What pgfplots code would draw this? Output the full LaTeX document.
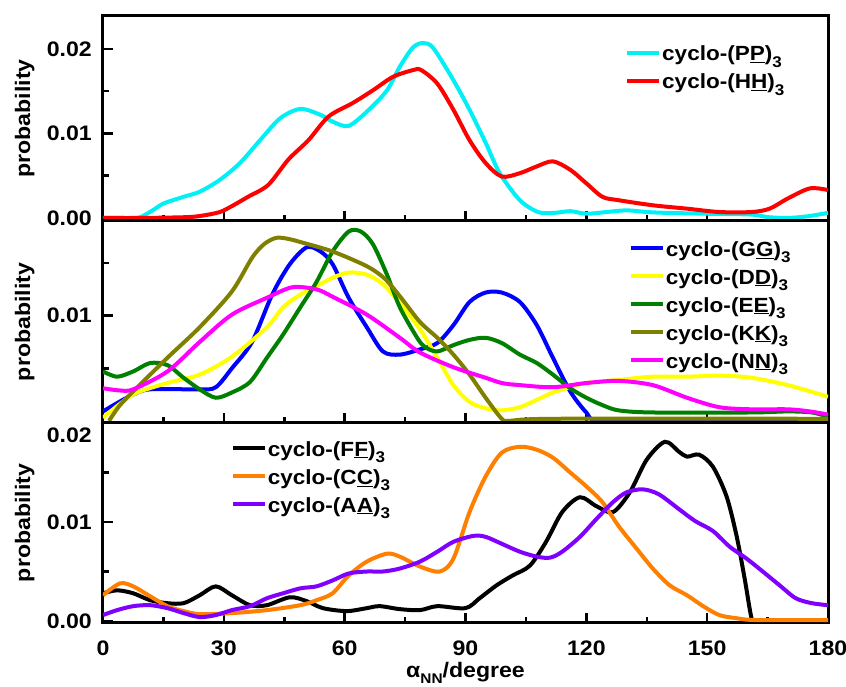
\documentclass[border=0pt]{standalone}
\usepackage{fontspec}
\setmainfont{Liberation Sans}[FakeStretch=1.1]
\usepackage{pgfplots}
\pgfplotsset{compat=1.18}

\definecolor{ccyan}{RGB}{0,240,245}
\definecolor{cred}{RGB}{255,0,0}
\definecolor{cblue}{RGB}{0,0,255}
\definecolor{cyellow}{RGB}{255,255,0}
\definecolor{cgreen}{RGB}{0,128,0}
\definecolor{colive}{RGB}{128,128,0}
\definecolor{cmagenta}{RGB}{255,0,255}
\definecolor{corange}{RGB}{255,128,0}
\definecolor{cpurple}{RGB}{128,0,255}

\newcommand{\sub}[1]{\raisebox{-0.3em}{\fontsize{15.5}{15.5}\selectfont #1}}
\newcommand{\cyc}[2]{cyclo-(#1\underline{#2})\sub{3}}

\pgfplotsset{
  panel/.style={
    scale only axis, width=725pt,
    xmin=0, xmax=180,
    xtick={0,30,...,180}, minor xtick={15,45,...,165},
    tick align=inside, xtick pos=bottom, ytick pos=left,
    major tick length=10pt, minor tick length=6pt,
    every tick/.style={black, line width=2.5pt},
    axis line style={line width=3pt},
    scaled y ticks=false,
    font=\fontsize{21}{25}\selectfont\bfseries,
    tick label style={font=\fontsize{21}{25}\selectfont\bfseries},
    yticklabel style={/pgf/number format/fixed, /pgf/number format/fixed zerofill,
      /pgf/number format/precision=2, inner sep=0pt, xshift=-11pt},
    xticklabel style={inner sep=0pt, yshift=-18pt},
    /pgf/number format/assume math mode=true,
    ylabel={probability},
    every axis y label/.style={at={(axis description cs:-0.108,0.5)}, rotate=90, anchor=center},
    legend cell align=left,
    legend image code/.code={\draw[##1, line width=4pt] (0pt,3.5pt) -- (32pt,3.5pt);},
    legend style={draw=none, fill=none, inner sep=0pt, anchor=north west,
      row sep=5pt, font=\fontsize{20.5}{24}\selectfont\bfseries,
      nodes={inner sep=1pt, text height=15pt, text depth=6pt},
      /tikz/every even column/.append style={column sep=5pt}},
  },
  curve/.style={smooth, tension=0.5, line width=4pt},
}

\begin{document}
\begin{tikzpicture}
\useasboundingbox (0pt,0pt) rectangle (846pt,687pt);

% ---------- top panel: P and H ----------
\begin{axis}[panel, at={(103pt,466pt)}, anchor=south west, height=205pt,
  ymin=-0.00036, ymax=0.0239,
  ytick={0,0.01,0.02}, minor ytick={0.005,0.015},
  xticklabels={},
  legend style={at={(axis description cs:0.72,0.86)}}]
\addplot[curve, ccyan] coordinates {
(0,0.0) (5,0.0) (8.7,0.0) (12,0.0008) (15,0.0017) (20,0.0025) (24,0.0031)
(29,0.0045) (34,0.0065) (39,0.0092) (44,0.0118) (49,0.0129) (54,0.0122)
(57,0.0114) (61,0.0109) (66,0.0128) (70.5,0.0151) (73.7,0.0179) (77,0.0202)
(79.5,0.0207) (82,0.0201) (87,0.0163) (91,0.0128) (95,0.0089) (98.5,0.0053)
(103.5,0.0021) (108,0.0007) (112,0.0006) (116,0.0008) (120,0.0005) (125,0.0007)
(130,0.0009) (135,0.0007) (140,0.0006) (150,0.0005) (161,0.0004) (165,0.0001)
(170,0.0) (175,0.0002) (180,0.0006)};
\addlegendentry{\cyc{P}{P}}
\addplot[curve, cred] coordinates {
(0,0.0) (10,0.0) (21,0.0001) (25,0.0003) (29,0.0007) (32,0.0014) (36,0.0025)
(41,0.0039) (46,0.0069) (51,0.0092) (56,0.012) (62,0.0136) (67,0.0151)
(72,0.0167) (77,0.0175) (79,0.0175) (83,0.0159) (87,0.0128) (91,0.0092)
(95,0.0065) (99,0.0049) (103.5,0.0053) (107.7,0.0061) (111.7,0.0067) (116,0.0057)
(120,0.0041) (124,0.0025) (128,0.0021) (136.5,0.0015) (145,0.0011) (153,0.0007)
(161,0.0007) (165.5,0.0011) (170,0.0023) (175.5,0.0035) (180,0.0033)};
\addlegendentry{\cyc{H}{H}}
\end{axis}

% ---------- middle panel: G, D, E, K, N ----------
\begin{axis}[panel, at={(103pt,264pt)}, anchor=south west, height=202pt,
  ymin=-0.0002, ymax=0.019,
  ytick={0.01}, minor ytick={0.005,0.015},
  xticklabels={},
  legend style={at={(axis description cs:0.725,0.906)}}]
\addplot[curve, cblue] coordinates {
(0,0.0009) (4,0.0018) (7.5,0.0025) (11.7,0.003) (24,0.003) (28,0.0032) (32,0.005)
(37,0.0075) (42,0.012) (46.4,0.0149) (50.6,0.0165) (54,0.0161) (57,0.0149)
(61,0.0117) (65.5,0.0089) (69.5,0.0066) (73.7,0.0063) (78.7,0.0068) (83,0.0074)
(87,0.0091) (91,0.0113) (95,0.0122) (99,0.0122) (103.5,0.0113) (107.7,0.0091)
(111.7,0.006) (116,0.0028) (120,0.0008) (123,0.0) (140,0.0) (180,0.0)};
\addlegendentry{\cyc{G}{G}}
\addplot[curve, cyellow] coordinates {
(0,0.0003) (7.5,0.0025) (16,0.0036) (24,0.0044) (32,0.0061) (40.7,0.0089)
(44.7,0.0108) (49,0.012) (53,0.0128) (57,0.0136) (61,0.0141) (65.5,0.0139)
(69.5,0.013) (73.7,0.0112) (78.7,0.0087) (83,0.006) (87,0.0034) (91,0.0018)
(95,0.0012) (99,0.001) (103.5,0.0013) (107.7,0.002) (111.7,0.0027) (116,0.0032)
(120,0.0036) (128,0.0039) (136.5,0.0042) (145,0.0042) (153,0.0043) (161,0.0041)
(170,0.0034) (180,0.0023)};
\addlegendentry{\cyc{D}{D}}
\addplot[curve, cgreen] coordinates {
(0,0.0047) (3.5,0.0042) (7.5,0.0047) (11.7,0.0055) (16,0.0053) (20,0.0041)
(24,0.003) (28,0.0022) (32,0.0027) (36.5,0.0037) (40.7,0.006) (44.7,0.0082)
(49,0.0108) (53,0.0132) (57,0.0161) (61,0.018) (64,0.018) (67,0.0168)
(70.5,0.0139) (73.7,0.0108) (78,0.0079) (80,0.007) (83,0.0066) (87,0.0072)
(91,0.0077) (95,0.0079) (99,0.0074) (103.5,0.0063) (107.7,0.0055) (111.7,0.0044)
(116,0.0031) (120,0.0022) (124,0.0015) (128,0.001) (136.5,0.0008) (161,0.0008)
(170,0.0009) (176,0.0008) (180,0.0004)};
\addlegendentry{\cyc{E}{E}}
\addplot[curve, colive] coordinates {
(1.5,0.0) (4,0.0014) (7.5,0.0028) (16,0.006) (24,0.0089) (32,0.0123) (37,0.0155)
(40,0.0168) (43,0.0174) (46,0.0173) (49,0.017) (57,0.0161) (65.5,0.0147)
(70,0.0135) (74,0.0117) (78.7,0.0094) (83,0.0079) (87,0.0063) (91,0.0044)
(95,0.0022) (99,0.0002) (101,0.0) (112,0.0002) (180,0.0002)};
\addlegendentry{\cyc{K}{K}}
\addplot[curve, cmagenta] coordinates {
(0,0.0031) (4,0.0029) (7.5,0.003) (16,0.0047) (24,0.0075) (32,0.0101)
(40.7,0.0117) (47,0.0127) (53,0.0125) (57,0.0118) (65.5,0.0101) (73.7,0.0079)
(78.7,0.0065) (87,0.0051) (95,0.0041) (99,0.0036) (103.5,0.0034) (111.7,0.0032)
(120,0.0036) (128,0.0038) (136.5,0.0034) (145,0.0022) (153,0.0013) (161,0.0011)
(170,0.0011) (175.5,0.0009) (180,0.0006)};
\addlegendentry{\cyc{N}{N}}
\end{axis}

% ---------- bottom panel: F, C, A ----------
\begin{axis}[panel, at={(103pt,64pt)}, anchor=south west, height=200pt,
  ymin=-0.0002, ymax=0.02,
  ytick={0,0.01}, minor ytick={0.005,0.015},
  extra y ticks={0.02},
  extra y tick style={yticklabel style={yshift=-12pt}},
  xlabel={α\raisebox{-0.25em}{\fontsize{14}{14}\selectfont NN}/degree},
  every axis x label/.style={at={(axis description cs:0.5,-0.275)}, anchor=base},
  legend style={at={(axis description cs:0.176,0.915)}}]
\addplot[curve, black] coordinates {
(0,0.0028) (3.5,0.0031) (7.5,0.0028) (11.7,0.0021) (16,0.0018) (20,0.0018)
(24,0.0026) (28,0.0035) (32,0.0026) (36.5,0.0016) (40.7,0.0016) (46.4,0.0024)
(50.6,0.002) (54.6,0.0013) (60.5,0.001) (65.5,0.0013) (68.7,0.0015) (73.7,0.0012)
(78.7,0.0011) (83,0.0015) (90,0.0013) (93.5,0.0023) (97.7,0.0036) (101.7,0.0046)
(106,0.0056) (110,0.008) (114,0.011) (118.4,0.0125) (122.5,0.0116) (126.6,0.011)
(130.8,0.013) (135,0.0163) (139.5,0.0181) (143,0.0171) (145,0.0166) (148,0.0168)
(151.4,0.0156) (154.8,0.0126) (157.3,0.0086) (159.3,0.0043) (161,0.0003)
(162,0.0) (170,0.0) (180,0.0)};
\addlegendentry{\cyc{F}{F}}
\addplot[curve, corange] coordinates {
(0,0.0026) (4.2,0.0038) (7.5,0.0035) (11.7,0.0025) (16,0.0015) (20,0.001)
(24,0.0007) (32,0.0008) (40.7,0.0011) (49,0.0016) (53,0.0021) (57,0.0028)
(61,0.0046) (65.5,0.006) (70.5,0.0068) (73.7,0.0065) (78.7,0.0055) (83.6,0.005)
(87,0.0063) (91,0.011) (95,0.0146) (99,0.017) (103.5,0.0176) (107.7,0.0173)
(111.7,0.0165) (116,0.015) (120,0.0136) (124,0.012) (128,0.0096) (132.5,0.0073)
(136.5,0.0053) (140.7,0.0036) (145,0.0026) (149,0.0015) (153,0.0006) (157,0.0003)
(162,0.0001) (180,0.0001)};
\addlegendentry{\cyc{C}{C}}
\addplot[curve, cpurple] coordinates {
(0,0.0006) (3.5,0.0011) (7.5,0.0015) (11.7,0.0016) (16,0.0013) (20,0.0008)
(24,0.0004) (28,0.0006) (32,0.0011) (36.5,0.0015) (40.7,0.0023) (44.7,0.0028)
(49,0.0033) (53,0.0035) (57,0.0041) (61,0.0048) (65.5,0.005) (69.5,0.005)
(73.7,0.0053) (78.7,0.006) (83,0.007) (87,0.008) (92,0.0086) (95,0.0085)
(99,0.0078) (103.5,0.007) (107.7,0.0065) (111,0.0064) (114,0.007) (118.4,0.0085)
(122.5,0.0103) (126.6,0.012) (130,0.013) (134,0.0133) (138,0.0128) (143,0.0113)
(147,0.0101) (151.4,0.0091) (155.6,0.0075) (159.8,0.0063) (163.8,0.005)
(168,0.0036) (172,0.0023) (176,0.0018) (180,0.0016)};
\addlegendentry{\cyc{A}{A}}
\end{axis}
\end{tikzpicture}
\end{document}
